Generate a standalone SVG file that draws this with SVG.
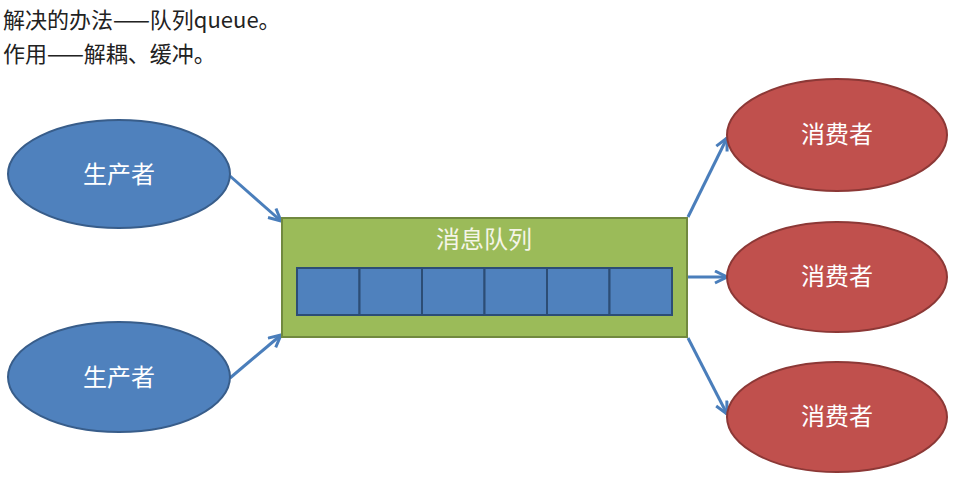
<svg xmlns="http://www.w3.org/2000/svg" width="971" height="480" viewBox="0 0 971 480">
<defs>
<style>
.cap{font-family:"Noto Sans CJK SC","Noto Sans",sans-serif;font-size:22px;fill:#222}
.lbl{font-family:"Noto Sans CJK SC","Noto Sans",sans-serif;font-size:24px;fill:#fff;text-anchor:middle}
.prod{fill:#4F81BD;stroke:#385D8A;stroke-width:2}
.cons{fill:#C0504D;stroke:#8C3836;stroke-width:2}
.queue{fill:#9BBB59;stroke:#71893F;stroke-width:2}
.cell{fill:#4F81BD;stroke:#2C4D75;stroke-width:2}
.conn{stroke:#4A7EBB;stroke-width:3;fill:none;marker-end:url(#arr)}
</style>
<marker id="arr" viewBox="0 0 10 10" refX="9" refY="5" markerWidth="5" markerHeight="5" orient="auto" markerUnits="strokeWidth">
<path d="M1,1 L9,5 L1,9" fill="none" stroke="#4A7EBB" stroke-width="2"/>
</marker>
</defs>
<rect width="971" height="480" fill="#fff"/>
<text class="cap" x="3" y="28">解决的办法——队列queue。</text>
<text class="cap" x="3" y="62">作用——解耦、缓冲。</text>
<g id="connectors">
<line class="conn" x1="230" y1="176" x2="281" y2="221"/>
<line class="conn" x1="230" y1="378" x2="281" y2="335"/>
<line class="conn" x1="688" y1="217" x2="727" y2="138"/>
<line class="conn" x1="688" y1="277" x2="727" y2="277"/>
<line class="conn" x1="688" y1="338" x2="727" y2="414"/>
</g>
<g id="producer1">
<ellipse class="prod" cx="119" cy="174" rx="111" ry="54"/>
<text class="lbl" x="119" y="183">生产者</text>
</g>
<g id="producer2">
<ellipse class="prod" cx="119" cy="377" rx="111" ry="55"/>
<text class="lbl" x="119" y="386">生产者</text>
</g>
<g id="queue">
<rect class="queue" x="282" y="218" width="405" height="119"/>
<text class="lbl" x="484" y="248" style="fill:#F5F5E8">消息队列</text>
<rect class="cell" x="297" y="268" width="62.5" height="47"/>
<rect class="cell" x="359.5" y="268" width="62.5" height="47"/>
<rect class="cell" x="422" y="268" width="62.5" height="47"/>
<rect class="cell" x="484.5" y="268" width="62.5" height="47"/>
<rect class="cell" x="547" y="268" width="62.5" height="47"/>
<rect class="cell" x="609.5" y="268" width="62.5" height="47"/>
</g>
<g id="consumer1">
<ellipse class="cons" cx="837" cy="135" rx="110" ry="56"/>
<text class="lbl" x="837" y="143">消费者</text>
</g>
<g id="consumer2">
<ellipse class="cons" cx="837" cy="277" rx="110" ry="55"/>
<text class="lbl" x="837" y="285">消费者</text>
</g>
<g id="consumer3">
<ellipse class="cons" cx="837" cy="417" rx="110" ry="55"/>
<text class="lbl" x="837" y="425">消费者</text>
</g>
</svg>
